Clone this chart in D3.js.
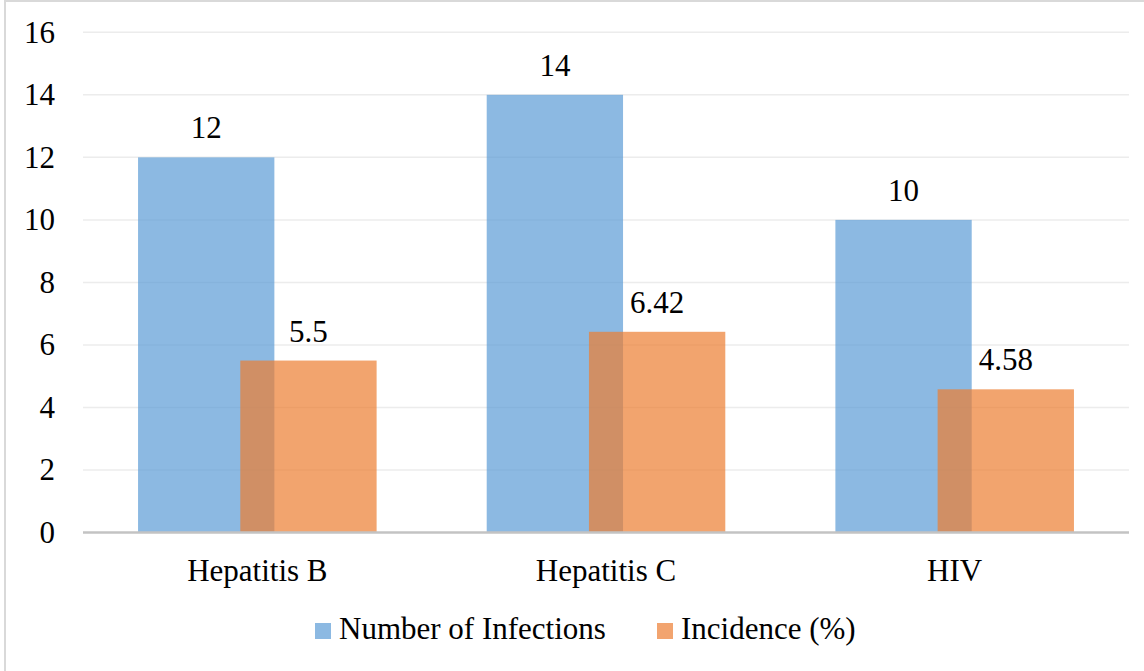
<!DOCTYPE html>
<html>
<head>
<meta charset="utf-8">
<script src="https://cdn.jsdelivr.net/npm/d3@7"></script>
<style>
  svg text { font-family: "Liberation Serif", "Times New Roman", serif !important; }
</style>
</head>
<body style="margin:0">
<svg id="chart" width="1144" height="671"></svg>
<script>
const categories = ["Hepatitis B", "Hepatitis C", "HIV"];
const seriesNames = ["Number of Infections", "Incidence (%)"];
const infections = [12, 14, 10];
const incidence = [5.5, 6.42, 4.58];
const incidenceLabels = ["5.5", "6.42", "4.58"];
const yTicks = [0, 2, 4, 6, 8, 10, 12, 14, 16];

const W = 1144, H = 671;
const FONT = "Liberation Serif";
const svg = d3.select("#chart");
const plot = { left: 83, right: 1129, top: 32.3, bottom: 532.5 };
const fontSize = 31;

// outer border
svg.append("rect")
  .attr("x", 5).attr("y", 1)
  .attr("width", W + 10).attr("height", H + 10)
  .attr("fill", "none").attr("stroke", "#d9d9d9").attr("stroke-width", 2);

const x = d3.scaleBand().domain(categories).range([plot.left, plot.right]).paddingInner(0).paddingOuter(0);
const y = d3.scaleLinear().domain([0, 16]).range([plot.bottom, plot.top]);

const bw = x.bandwidth() * 0.391;
const offset = bw * 0.75;

function txt(sel) {
  return sel.attr("font-family", FONT).attr("font-size", fontSize).attr("fill", "#000")
    .attr("style", "font-family: 'Liberation Serif', 'Times New Roman', serif !important; font-size: " + fontSize + "px;");
}

// gridlines
svg.append("g").selectAll("line").data(yTicks.filter(d => d > 0)).join("line")
  .attr("x1", plot.left).attr("x2", plot.right)
  .attr("y1", d => y(d)).attr("y2", d => y(d))
  .attr("stroke", "#ececec").attr("stroke-width", 1.5);

// y tick labels
txt(svg.append("g").selectAll("text").data(yTicks).join("text")
  .attr("x", 55).attr("y", d => y(d) + 10.5)
  .attr("text-anchor", "end"))
  .text(d => d);

const colors = ["rgba(91,155,213,0.7)", "rgba(237,125,49,0.7)"];
const data = [infections, incidence];
const labels = [infections.map(String), incidenceLabels];

data.forEach((vals, si) => {
  svg.append("g").selectAll("rect").data(categories).join("rect")
    .attr("x", (c) => x(c) + x.bandwidth() / 2 - (bw + offset) / 2 + si * offset)
    .attr("y", (c, i) => y(vals[i]))
    .attr("width", bw)
    .attr("height", (c, i) => y(0) - y(vals[i]))
    .attr("fill", colors[si]);
});

data.forEach((vals, si) => {
  txt(svg.append("g").selectAll("text").data(categories).join("text")
    .attr("x", (c) => x(c) + x.bandwidth() / 2 - (bw + offset) / 2 + si * offset + bw / 2)
    .attr("y", (c, i) => y(vals[i]) - 19)
    .attr("text-anchor", "middle"))
    .text((c, i) => labels[si][i]);
});

// x axis line
svg.append("line")
  .attr("x1", plot.left).attr("x2", plot.right)
  .attr("y1", plot.bottom).attr("y2", plot.bottom)
  .attr("stroke", "#c3c3c3").attr("stroke-width", 2.5);

// category labels
txt(svg.append("g").selectAll("text").data(categories).join("text")
  .attr("x", c => x(c) + x.bandwidth() / 2)
  .attr("y", 581)
  .attr("text-anchor", "middle"))
  .text(c => c);

// legend
const legendColors = ["#8cb9e2", "#f2a46f"];
const legX = [315, 657];
seriesNames.forEach((name, i) => {
  svg.append("rect").attr("x", legX[i]).attr("y", 623).attr("width", 16).attr("height", 16)
    .attr("fill", legendColors[i]);
  txt(svg.append("text").attr("x", legX[i] + 24).attr("y", 639)).text(name);
});
</script>
</body>
</html>
